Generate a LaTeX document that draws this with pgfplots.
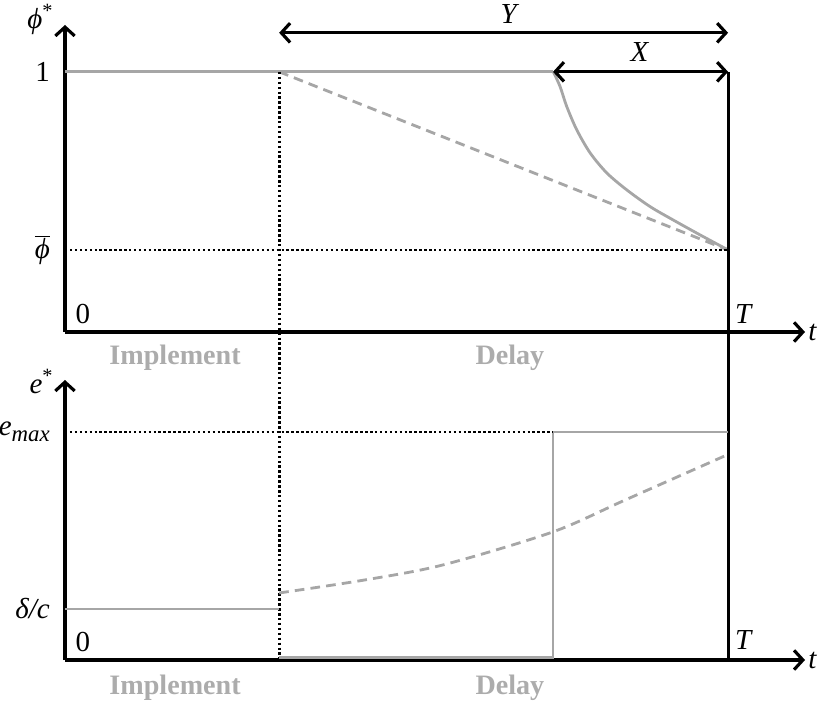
\documentclass[border=0pt]{standalone}
\usepackage{fontspec}
\setmainfont{Liberation Serif}
\usepackage{pgfplots}
\pgfplotsset{compat=1.18}
\usetikzlibrary{arrows.meta}

\definecolor{lgray}{RGB}{166,166,166}
\definecolor{tgray}{RGB}{172,172,172}

\tikzset{
  gcurve/.style={lgray, line width=1.6pt},
  gdash/.style={lgray, line width=1.6pt, dash pattern=on 5.5pt off 3.5pt},
  bdots/.style={black, line width=1.6pt, dash pattern=on 1.4pt off 1.4pt},
  bwall/.style={black, line width=1.8pt},
  lab/.style={font=\fontsize{16.5}{19}\selectfont},
  phase/.style={font=\fontsize{16}{19}\selectfont\bfseries, text=tgray},
  barb/.tip={Straight Barb[length=5pt, width=11pt, line width=1.8pt]},
}
\pgfplotsset{
  panel/.style={
    scale only axis, width=14.8cm,
    xmin=0, xmax=1.116, ymin=0,
    axis lines=left,
    axis line style={line width=1.8pt, -barb},
    xtick=\empty, tick style={draw=none}, clip=false,
    yticklabel style={font=\fontsize{16.5}{19}\selectfont, xshift=-3pt},
  },
}

\begin{document}
\begin{tikzpicture}
% upper panel: share phi*
\begin{axis}[panel, at={(0,0)}, anchor=south west,
  height=6.14cm, ymax=1.18,
  ytick={0.315,1}, yticklabels={$\overline{\hbox{\textit{ϕ}}}$, 1}]
\addplot[gcurve] coordinates {(0,1) (0.736,1)};
\addplot[gcurve, smooth] coordinates {
  (0.7365,1.0) (0.7466,0.9435) (0.7567,0.8665) (0.7718,0.7769) (0.7919,0.6885)
  (0.8170,0.6115) (0.8472,0.5462) (0.8824,0.4819) (0.9170,0.4308)
  (0.9578,0.3731) (1.0,0.3154)};
\addplot[gdash] coordinates {(0.323,1) (1,0.315)};
\addplot[bdots] coordinates {(0,0.315) (1,0.315)};
\addplot[bdots] coordinates {(0.323,1) (0.323,-1.2615)};
\addplot[bwall] coordinates {(1,1) (1,-1.2615)};
\addplot[bwall, barb-barb] coordinates {(0.323,1.15) (1,1.15)};
\addplot[bwall, barb-barb] coordinates {(0.736,1) (1,1)};
\node[lab, inner sep=1pt] at (axis cs:0.671,1.222) {\textit{Y}};
\node[lab] at (axis cs:0.867,1.077) {\textit{X}};
\node[lab] at (axis cs:0.027,0.069) {0};
\node[lab] at (axis cs:1.024,0.069) {\textit{T}};
\node[lab, anchor=west, inner sep=0pt] at (axis cs:1.1207,0) {\textit{t}};
\node[lab, anchor=east] at (axis cs:-0.008,1.2) {\textit{ϕ}\textsuperscript{*}};
\node[phase] at (axis cs:0.166,-0.1) {Implement};
\node[phase] at (axis cs:0.671,-0.1) {Delay};
\end{axis}
% lower panel: effort e*
\begin{axis}[panel, at={(0,-6.56cm)}, anchor=south west,
  height=5.6cm, ymax=1.228,
  ytick={0.224,1},
  yticklabels={\textit{δ/c}, \textit{e}\raisebox{-0.45ex}{\fontsize{13}{15}\selectfont\textit{max}}}]
\addplot[gcurve] coordinates {(0,0.224) (0.323,0.224)};
\addplot[gcurve] coordinates {(0.323,0.01) (0.736,0.01) (0.736,1) (1,1)};
\addplot[bdots] coordinates {(0,1) (0.736,1)};
\addplot[gdash, smooth] coordinates {
  (0.323,0.294) (0.452,0.351) (0.570,0.417) (0.735,0.561) (0.845,0.702) (0.998,0.899)};
\node[lab] at (axis cs:0.027,0.079) {0};
\node[lab] at (axis cs:1.024,0.088) {\textit{T}};
\node[lab, anchor=west, inner sep=0pt] at (axis cs:1.1207,0) {\textit{t}};
\node[lab, anchor=east] at (axis cs:-0.008,1.22) {\textit{e}\textsuperscript{*}};
\node[phase] at (axis cs:0.166,-0.123) {Implement};
\node[phase] at (axis cs:0.671,-0.123) {Delay};
\end{axis}
\pgfresetboundingbox
\path[use as bounding box] (-1.30,-7.54) rectangle (15.04,6.64);
\end{tikzpicture}
\end{document}
